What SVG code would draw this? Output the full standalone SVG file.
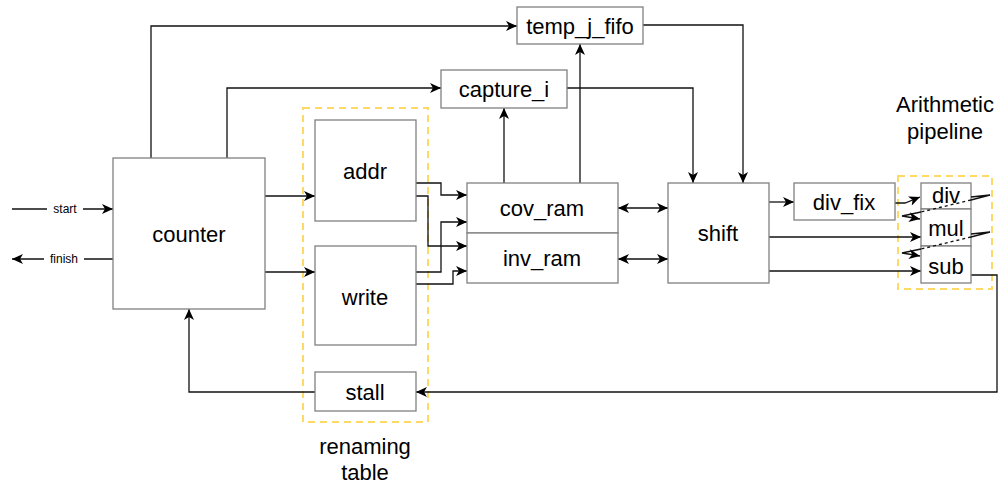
<svg xmlns="http://www.w3.org/2000/svg" width="998" height="483" viewBox="0 0 998 483">
<defs>
<marker id="arr" viewBox="0 0 12 10" refX="11" refY="5" markerWidth="12" markerHeight="10" markerUnits="userSpaceOnUse" orient="auto-start-reverse">
<path d="M0,0 L11,5 L0,10 L3,5 z" fill="#000"/>
</marker>
<style>
.box{fill:#fff;stroke:#808080;stroke-width:1.3}
.grp{fill:none;stroke:#FFD966;stroke-width:2;stroke-dasharray:7 5}
.t{font-family:"Liberation Sans",Arial,Helvetica,sans-serif;font-size:22px;fill:#000;text-anchor:middle;dominant-baseline:central}
.s{font-family:"Liberation Sans",Arial,Helvetica,sans-serif;font-size:12px;fill:#000;text-anchor:middle;dominant-baseline:central}
.c{fill:none;stroke:#111;stroke-width:1.3}
.a{marker-end:url(#arr)}
.b{marker-start:url(#arr);marker-end:url(#arr)}
.d{stroke-dasharray:3 3}
</style>
</defs>
<rect width="998" height="483" fill="#fff"/>
<g id="renaming-table-group">
<rect class="grp" x="303" y="108" width="125" height="314"/>
<text class="t" x="365" y="446">renaming</text>
<text class="t" x="365" y="472">table</text>
</g>
<g id="arith-group">
<rect class="grp" x="898" y="176" width="94" height="113"/>
<text class="t" x="945" y="104">Arithmetic</text>
<text class="t" x="945" y="131">pipeline</text>
</g>
<g id="connectors">
<path class="c a" d="M151,158 V26 H517"/>
<path class="c a" d="M227,158 V88 H441"/>
<path class="c a" d="M265,196 H315"/>
<path class="c a" d="M265,272 H315"/>
<path class="c a" d="M416,183 H441 V195 H467"/>
<path class="c a" d="M416,196 H428 V246 H467"/>
<path class="c a" d="M416,272 H441 V222 H467"/>
<path class="c a" d="M416,284 H453 V271 H467"/>
<path class="c a" d="M504,183 V108"/>
<path class="c a" d="M580,183 V44"/>
<path class="c a" d="M567,88 H693 V183"/>
<path class="c a" d="M643,25 H743 V183"/>
<path class="c b" d="M618,208 H668"/>
<path class="c b" d="M618,259 H668"/>
<path class="c a" d="M769,202 H794"/>
<path class="c a" d="M895,203 H905 L920,197"/>
<path class="c a" d="M769,237 H921"/>
<path class="c a" d="M769,271 H921"/>
<path class="c a" d="M971,275 H997 V392 H416"/>
<path class="c a" d="M315,392 H189 V309"/>
<path class="c a" d="M12,209 H113"/>
<path class="c a" d="M113,259 H12"/>
</g>
<g id="start-label"><rect x="47" y="202" width="36" height="14" fill="#fff"/><text class="s" x="65" y="209">start</text></g>
<g id="finish-label"><rect x="44" y="252" width="40" height="14" fill="#fff"/><text class="s" x="64" y="259">finish</text></g>
<g id="counter"><rect class="box" x="113" y="158" width="152" height="151"/><text class="t" x="189" y="234">counter</text></g>
<g id="addr"><rect class="box" x="315" y="120" width="101" height="101"/><text class="t" x="365" y="171">addr</text></g>
<g id="write"><rect class="box" x="315" y="246" width="101" height="99"/><text class="t" x="365" y="297">write</text></g>
<g id="stall"><rect class="box" x="315" y="372" width="101" height="39"/><text class="t" x="365" y="392">stall</text></g>
<g id="temp_j_fifo"><rect class="box" x="517" y="7" width="126" height="37"/><text class="t" x="580" y="26">temp_j_fifo</text></g>
<g id="capture_i"><rect class="box" x="441" y="70" width="126" height="38"/><text class="t" x="504" y="89">capture_i</text></g>
<g id="cov_ram"><rect class="box" x="467" y="183" width="151" height="50"/><text class="t" x="542" y="208">cov_ram</text></g>
<g id="inv_ram"><rect class="box" x="467" y="233" width="151" height="50"/><text class="t" x="542" y="258">inv_ram</text></g>
<g id="shift"><rect class="box" x="668" y="183" width="101" height="100"/><text class="t" x="718" y="233">shift</text></g>
<g id="div_fix"><rect class="box" x="794" y="183" width="101" height="37"/><text class="t" x="844" y="202">div_fix</text></g>
<g id="div"><rect class="box" x="921" y="183" width="50" height="26"/><text class="t" x="946" y="195">div</text></g>
<g id="mul"><rect class="box" x="921" y="209" width="50" height="37"/><text class="t" x="946" y="228">mul</text></g>
<g id="sub"><rect class="box" x="921" y="246" width="50" height="37"/><text class="t" x="946" y="266">sub</text></g>
<g id="loops">
<path class="c" d="M971,197 L990,195 L971,200"/>
<path class="c d" d="M971,200 L921,212"/>
<path class="c a" d="M921,212 L902,216 L920,219"/>
<path class="c" d="M971,234 L990,232 L971,237"/>
<path class="c d" d="M971,237 L921,249"/>
<path class="c a" d="M921,249 L902,253 L920,256"/>
</g>
</svg>
